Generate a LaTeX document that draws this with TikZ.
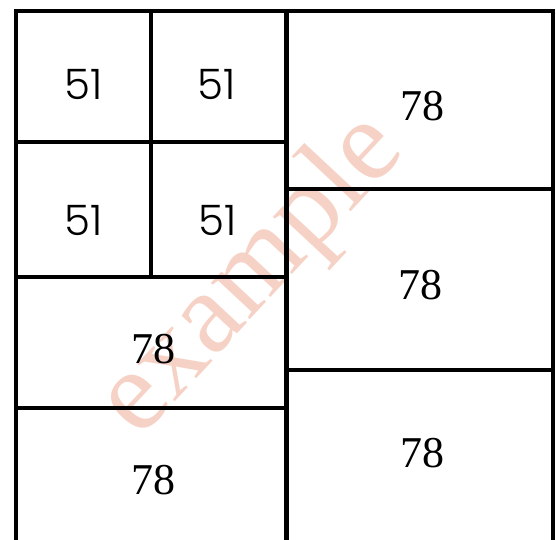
\documentclass[tikz,border=0pt]{standalone}
\usepackage{fontspec}
\setmainfont{Liberation Serif}
\newfontfamily\gotica{Poppins}[UprightFont=* Light]
\usepackage{xcolor}
\definecolor{MarcaAgua}{RGB}{246,210,198}

\tikzset{
  muro/.style={line width=4pt,line cap=rect},
  chica/.style={font=\gotica\fontsize{42}{42}\selectfont},
  grande/.style={font=\fontsize{44}{44}\selectfont},
}

\begin{document}
\begin{tikzpicture}[x=1pt,y=-1pt]
  \useasboundingbox (0,0) rectangle (556,539);
  \node[MarcaAgua,rotate=47,anchor=base,font=\fontsize{116}{116}\selectfont] (marca) at (273,296) {example};

  \draw[muro] (16,539) -- (16,11) -- (553,11) -- (553,539);
  \draw[muro,line width=5pt] (286,11) -- (286,539);

  \draw[muro] (151,11) -- (151,277);
  \draw[muro] (16,142) -- (286,142);
  \draw[muro] (16,277) -- (286,277);
  \draw[muro] (20,408) -- (286,408);

  \draw[muro,line width=3.4pt] (286,189) -- (553,189);
  \draw[muro,line width=3.4pt] (286,370) -- (553,370);

  \node[chica] (a1) at (84,84) {51};
  \node[chica] (a2) at (217,84) {51};
  \node[chica] (a3) at (84,220) {51};
  \node[chica] (a4) at (218,220) {51};
  \node[grande] (b1) at (153,349) {78};
  \node[grande] (b2) at (153,480) {78};
  \node[grande] (c1) at (422,106) {78};
  \node[grande] (c2) at (420,285) {78};
  \node[grande] (c3) at (422,453) {78};
\end{tikzpicture}
\end{document}
